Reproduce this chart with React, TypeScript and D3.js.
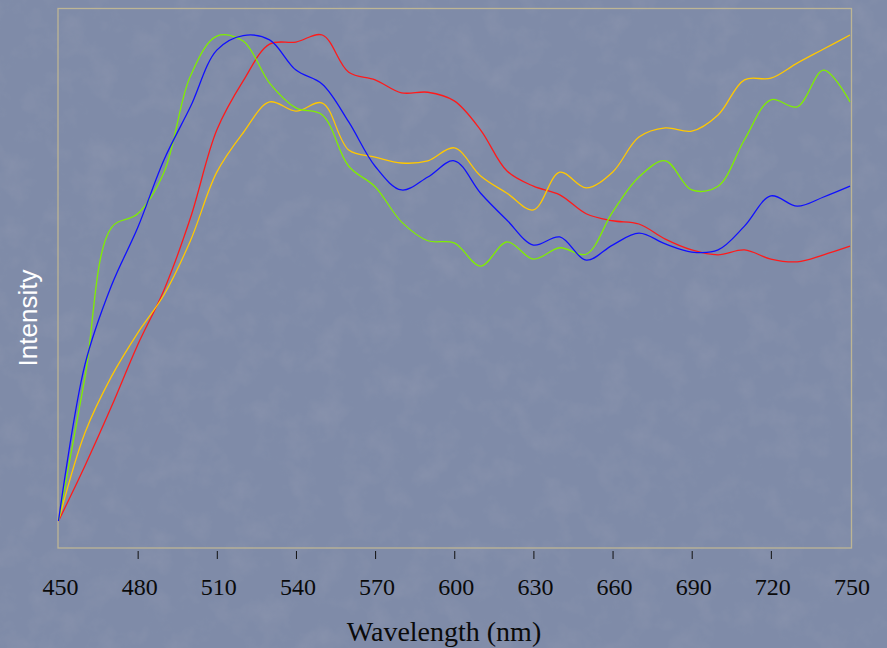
import React from "react";
import * as d3 from "d3";

const wavelengths = [450,460,470,480,490,500,510,520,530,540,550,560,570,580,590,600,610,620,630,640,650,660,670,680,690,700,710,720,730,740,750];
const greenSeries = [5.0,31.5,59.3,61.9,69.6,87.4,94.8,93.9,86.1,81.5,80.2,70.7,66.9,60.4,56.9,56.5,52.2,56.7,53.5,55.6,54.4,62.2,68.7,71.7,66.3,67.0,75.6,83.0,81.7,88.5,82.6];
const blueSeries = [5.0,33.9,48.5,59.3,71.9,81.7,92.2,94.9,94.1,88.5,85.9,78.9,70.7,66.3,68.7,71.7,65.7,60.7,56.1,57.6,53.3,56.1,58.3,56.3,54.8,55.2,59.6,65.2,63.3,65.0,67.0];
const redSeries = [5.0,15.2,26.1,37.6,47.8,61.1,77.4,86.5,93.3,93.7,95.0,88.1,86.7,84.3,84.4,82.8,77.4,69.8,67.0,65.4,61.9,60.6,60.0,57.2,55.2,54.3,55.2,53.5,53.0,54.3,55.9];
const yellowSeries = [5.0,21.3,31.7,39.8,46.9,56.9,69.6,76.9,82.6,80.9,82.4,73.7,72.4,71.3,71.7,74.1,68.9,65.7,62.6,69.6,66.7,69.6,76.1,77.8,77.2,80.2,86.7,87.0,89.8,92.4,95.0];
const tickValues = [450,480,510,540,570,600,630,660,690,720,750];

const series = [
  { name: "red", values: redSeries, color: "#ff1a1a" },
  { name: "yellow", values: yellowSeries, color: "#ffc800" },
  { name: "green", values: greenSeries, color: "#80ee00" },
  { name: "blue", values: blueSeries, color: "#1010ff" },
];

export default function App() {
  const W = 887, H = 648;
  const x = d3.scaleLinear().domain([450, 750]).range([58.5, 850]);
  const y = d3.scaleLinear().domain([0, 100]).range([548, 8]);
  const line = d3.line<number>()
    .x((_, i) => x(wavelengths[i]))
    .y((d) => y(d))
    .curve(d3.curveCatmullRom.alpha(0.5));

  return (
    <svg width={W} height={H} style={{ position: "fixed", left: 0, top: 0 }}>
      <defs>
        <filter id="tex" x="0" y="0" width="100%" height="100%">
          <feTurbulence type="fractalNoise" baseFrequency="0.035" numOctaves="4" seed="3" />
          <feColorMatrix type="matrix" values="0 0 0 0 0.35  0 0 0 0 0.38  0 0 0 0 0.48  0 0 0 -1.6 0.9" />
        </filter>
      </defs>
      <rect x={0} y={0} width={W} height={H} fill="#7f8ba8" />
      <rect x={0} y={0} width={W} height={H} filter="url(#tex)" opacity={0.3} />
      <rect x={58} y={8.5} width={793.5} height={539.5} fill="none" stroke="#bdb595" strokeWidth={1.3} />
      {series.map((s) => (
        <path key={s.name} d={line(s.values) || ""} fill="none" stroke={s.color} strokeWidth={1.3} />
      ))}
      {tickValues.map((t) => (
        <g key={t}>
          {t !== 450 && t !== 750 && (
            <line x1={x(t) + 0.5} x2={x(t) + 0.5} y1={551} y2={559} stroke="#111" strokeWidth={1} />
          )}
          <text x={x(t) + 2} y={595} textAnchor="middle" fontFamily="'Liberation Serif', serif" fontSize={24} fill="#0a0a0a">
            {t}
          </text>
        </g>
      ))}
      <text x={444} y={641} textAnchor="middle" fontFamily="'Liberation Serif', serif" fontSize={28} fill="#0a0a0a">
        Wavelength (nm)
      </text>
      <text transform="translate(37,318) rotate(-90)" textAnchor="middle" fontFamily="'Liberation Sans', Arial, sans-serif" fontSize={26} fill="#ffffff">
        Intensity
      </text>
    </svg>
  );
}
